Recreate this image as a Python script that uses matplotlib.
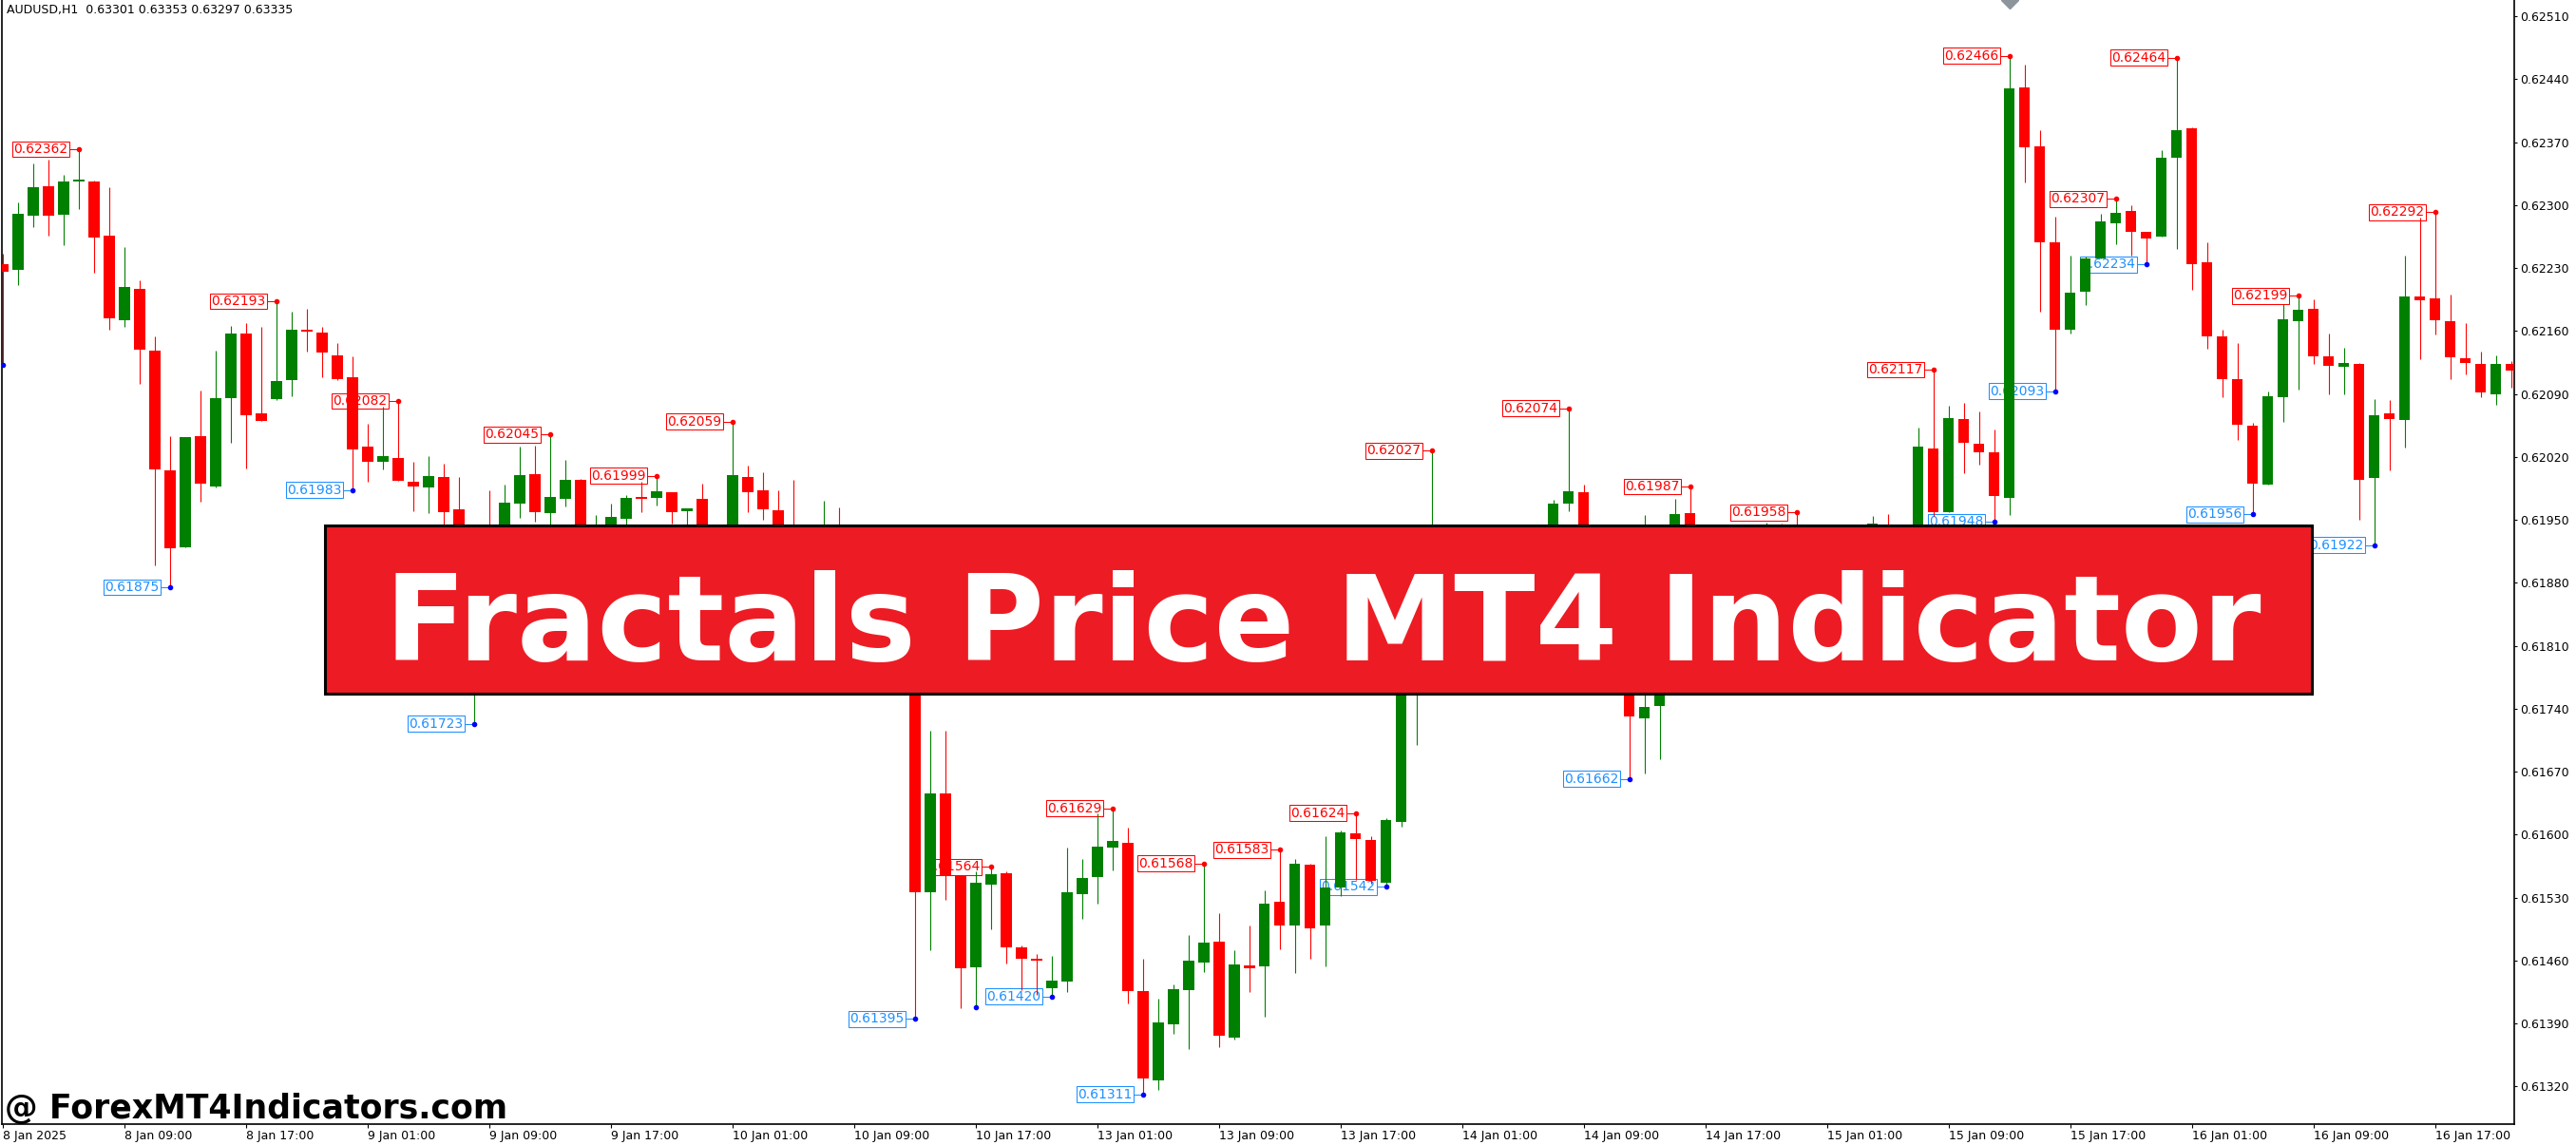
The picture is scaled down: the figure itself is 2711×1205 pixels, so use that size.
import numpy as np
import matplotlib.pyplot as plt
from matplotlib.patches import Rectangle

# AUDUSD H1 candles, one per bar
opens = [0.62234, 0.62228, 0.62288, 0.62321, 0.62289, 0.62326, 0.62326, 0.62266, 0.62172, 0.62207,
         0.62138, 0.62005, 0.61919, 0.62043, 0.61987, 0.62085, 0.62157, 0.62068, 0.62084, 0.62105,
         0.62161, 0.62158, 0.62133, 0.62108, 0.62031, 0.62014, 0.62019, 0.61992, 0.61986, 0.61998,
         0.61962, 0.61900, 0.61925, 0.61880, 0.61968, 0.62001, 0.61957, 0.61973, 0.61994, 0.61925,
         0.61935, 0.61951, 0.61975, 0.61974, 0.61981, 0.61960, 0.61973, 0.61935, 0.61940, 0.61998,
         0.61983, 0.61961, 0.61930, 0.61910, 0.61890, 0.61920, 0.61900, 0.61870, 0.61890, 0.61860,
         0.61830, 0.61536, 0.61646, 0.61555, 0.61452, 0.61544, 0.61557, 0.61475, 0.61461, 0.61429,
         0.61436, 0.61534, 0.61553, 0.61585, 0.61591, 0.61426, 0.61327, 0.61389, 0.61427, 0.61458,
         0.61481, 0.61374, 0.61454, 0.61453, 0.61525, 0.61499, 0.61566, 0.61499, 0.61541, 0.61601,
         0.61594, 0.61546, 0.61614, 0.61800, 0.61900, 0.61930, 0.61905, 0.61920, 0.61895, 0.61915,
         0.61900, 0.61925, 0.61930, 0.61968, 0.61981, 0.61910, 0.61860, 0.61800, 0.61729, 0.61743,
         0.61850, 0.61957, 0.61900, 0.61880, 0.61910, 0.61920, 0.61905, 0.61925, 0.61910, 0.61890,
         0.61905, 0.61895, 0.61915, 0.61925, 0.61940, 0.61915, 0.61900, 0.62029, 0.61959, 0.62062,
         0.62035, 0.62025, 0.61974, 0.62431, 0.62365, 0.62259, 0.62161, 0.62204, 0.62241, 0.62280,
         0.62293, 0.62270, 0.62265, 0.62353, 0.62385, 0.62236, 0.62154, 0.62106, 0.62055, 0.61989,
         0.62086, 0.62171, 0.62185, 0.62132, 0.62120, 0.62123, 0.61997, 0.62068, 0.62061, 0.62198,
         0.62196, 0.62171, 0.62130, 0.62123, 0.62090, 0.62123]
highs = [0.62246, 0.62303, 0.62346, 0.62351, 0.62334, 0.62362, 0.62327, 0.62320, 0.62253, 0.62216,
         0.62154, 0.62043, 0.62042, 0.62094, 0.62138, 0.62166, 0.62169, 0.62164, 0.62193, 0.62181,
         0.62185, 0.62165, 0.62147, 0.62132, 0.62057, 0.62076, 0.62082, 0.62015, 0.62021, 0.62012,
         0.61998, 0.61935, 0.61983, 0.61989, 0.62031, 0.62032, 0.62045, 0.62017, 0.61995, 0.61955,
         0.61968, 0.61978, 0.61992, 0.61999, 0.61981, 0.61963, 0.61990, 0.61943, 0.62059, 0.62010,
         0.62003, 0.61983, 0.61994, 0.61930, 0.61971, 0.61964, 0.61930, 0.61910, 0.61920, 0.61880,
         0.61850, 0.61715, 0.61715, 0.61555, 0.61559, 0.61564, 0.61559, 0.61477, 0.61467, 0.61465,
         0.61586, 0.61573, 0.61624, 0.61629, 0.61608, 0.61462, 0.61417, 0.61433, 0.61488, 0.61568,
         0.61513, 0.61471, 0.61499, 0.61538, 0.61583, 0.61573, 0.61567, 0.61598, 0.61604, 0.61624,
         0.61598, 0.61618, 0.61820, 0.61920, 0.62027, 0.61938, 0.61935, 0.61930, 0.61930, 0.61935,
         0.61938, 0.61940, 0.61972, 0.62074, 0.61989, 0.61920, 0.61870, 0.61810, 0.61955, 0.61870,
         0.61973, 0.61987, 0.61920, 0.61930, 0.61940, 0.61940, 0.61947, 0.61946, 0.61958, 0.61930,
         0.61925, 0.61935, 0.61940, 0.61954, 0.61956, 0.61930, 0.62052, 0.62117, 0.62077, 0.62080,
         0.62071, 0.62050, 0.62466, 0.62456, 0.62383, 0.62287, 0.62244, 0.62243, 0.62290, 0.62307,
         0.62300, 0.62270, 0.62361, 0.62464, 0.62386, 0.62259, 0.62161, 0.62147, 0.62058, 0.62093,
         0.62190, 0.62199, 0.62195, 0.62157, 0.62141, 0.62124, 0.62084, 0.62083, 0.62244, 0.62286,
         0.62292, 0.62200, 0.62169, 0.62137, 0.62133, 0.62127]
lows = [0.62122, 0.62211, 0.62275, 0.62266, 0.62255, 0.62296, 0.62225, 0.62161, 0.62164, 0.62101,
        0.61899, 0.61875, 0.61919, 0.61970, 0.61986, 0.62036, 0.62007, 0.62060, 0.62083, 0.62087,
        0.62137, 0.62109, 0.62105, 0.61983, 0.61992, 0.62006, 0.61993, 0.61960, 0.61957, 0.61935,
        0.61890, 0.61723, 0.61860, 0.61870, 0.61952, 0.61948, 0.61940, 0.61965, 0.61920, 0.61915,
        0.61930, 0.61945, 0.61959, 0.61966, 0.61946, 0.61940, 0.61925, 0.61915, 0.61930, 0.61959,
        0.61950, 0.61920, 0.61900, 0.61880, 0.61875, 0.61880, 0.61860, 0.61850, 0.61840, 0.61800,
        0.61395, 0.61471, 0.61527, 0.61407, 0.61408, 0.61495, 0.61457, 0.61427, 0.61422, 0.61420,
        0.61425, 0.61506, 0.61523, 0.61560, 0.61412, 0.61311, 0.61316, 0.61378, 0.61362, 0.61447,
        0.61364, 0.61372, 0.61425, 0.61397, 0.61472, 0.61446, 0.61462, 0.61453, 0.61532, 0.61550,
        0.61545, 0.61542, 0.61609, 0.61700, 0.61880, 0.61895, 0.61890, 0.61880, 0.61885, 0.61890,
        0.61890, 0.61910, 0.61920, 0.61960, 0.61900, 0.61850, 0.61780, 0.61662, 0.61668, 0.61684,
        0.61840, 0.61890, 0.61860, 0.61870, 0.61900, 0.61890, 0.61895, 0.61900, 0.61880, 0.61880,
        0.61885, 0.61885, 0.61905, 0.61915, 0.61905, 0.61890, 0.61890, 0.61954, 0.61958, 0.62002,
        0.62011, 0.61948, 0.61955, 0.62325, 0.62181, 0.62093, 0.62157, 0.62189, 0.62241, 0.62256,
        0.62244, 0.62234, 0.62265, 0.62251, 0.62206, 0.62140, 0.62086, 0.62039, 0.61956, 0.61989,
        0.62059, 0.62095, 0.62123, 0.62089, 0.62089, 0.61950, 0.61922, 0.62005, 0.62030, 0.62129,
        0.62156, 0.62106, 0.62112, 0.62086, 0.62078, 0.62097]
closes = [0.62226, 0.62290, 0.62320, 0.62288, 0.62326, 0.62327, 0.62264, 0.62174, 0.62209, 0.62139,
          0.62006, 0.61918, 0.62042, 0.61990, 0.62085, 0.62157, 0.62066, 0.62060, 0.62104, 0.62161,
          0.62159, 0.62136, 0.62106, 0.62028, 0.62014, 0.62021, 0.61993, 0.61987, 0.61999, 0.61959,
          0.61900, 0.61925, 0.61880, 0.61969, 0.62000, 0.61959, 0.61975, 0.61994, 0.61930, 0.61940,
          0.61953, 0.61974, 0.61973, 0.61982, 0.61959, 0.61963, 0.61935, 0.61940, 0.62000, 0.61981,
          0.61962, 0.61930, 0.61910, 0.61890, 0.61920, 0.61900, 0.61870, 0.61890, 0.61860, 0.61830,
          0.61536, 0.61646, 0.61555, 0.61451, 0.61546, 0.61556, 0.61475, 0.61462, 0.61460, 0.61438,
          0.61536, 0.61552, 0.61587, 0.61593, 0.61426, 0.61329, 0.61391, 0.61428, 0.61460, 0.61480,
          0.61376, 0.61455, 0.61451, 0.61523, 0.61499, 0.61567, 0.61496, 0.61541, 0.61602, 0.61595,
          0.61548, 0.61616, 0.61800, 0.61900, 0.61930, 0.61905, 0.61920, 0.61895, 0.61915, 0.61900,
          0.61925, 0.61930, 0.61968, 0.61982, 0.61910, 0.61860, 0.61800, 0.61731, 0.61742, 0.61850,
          0.61956, 0.61900, 0.61880, 0.61910, 0.61920, 0.61905, 0.61925, 0.61910, 0.61890, 0.61905,
          0.61895, 0.61915, 0.61925, 0.61946, 0.61915, 0.61900, 0.62031, 0.61959, 0.62063, 0.62036,
          0.62025, 0.61976, 0.62430, 0.62364, 0.62259, 0.62161, 0.62203, 0.62241, 0.62282, 0.62291,
          0.62270, 0.62263, 0.62353, 0.62383, 0.62234, 0.62154, 0.62106, 0.62056, 0.61990, 0.62087,
          0.62173, 0.62184, 0.62132, 0.62121, 0.62124, 0.61994, 0.62066, 0.62062, 0.62198, 0.62194,
          0.62172, 0.62131, 0.62124, 0.62092, 0.62123, 0.62116]

# fractal markers: (bar index, price)
up_fractals = [(5, 0.62362), (18, 0.62193), (26, 0.62082), (36, 0.62045), (43, 0.61999),
               (48, 0.62059), (65, 0.61564), (73, 0.61629), (79, 0.61568), (84, 0.61583),
               (89, 0.61624), (94, 0.62027), (103, 0.62074), (111, 0.61987), (118, 0.61958),
               (127, 0.62117), (132, 0.62466), (139, 0.62307), (143, 0.62464), (151, 0.62199),
               (160, 0.62292)]
down_fractals = [(11, 0.61875), (23, 0.61983), (31, 0.61723), (60, 0.61395), (69, 0.61420),
                 (75, 0.61311), (91, 0.61542), (107, 0.61662), (131, 0.61948), (135, 0.62093),
                 (141, 0.62234), (148, 0.61956), (156, 0.61922)]
unlabeled_down = [(0, 0.62122), (64, 0.61408)]

price_ticks = [0.62510, 0.62440, 0.62370, 0.62300, 0.62230, 0.62160, 0.62090, 0.62020, 0.61950,
               0.61880, 0.61810, 0.61740, 0.61670, 0.61600, 0.61530, 0.61460, 0.61390, 0.61320]
time_labels = ['8 Jan 2025', '8 Jan 09:00', '8 Jan 17:00', '9 Jan 01:00', '9 Jan 09:00',
               '9 Jan 17:00', '10 Jan 01:00', '10 Jan 09:00', '10 Jan 17:00', '13 Jan 01:00',
               '13 Jan 09:00', '13 Jan 17:00', '14 Jan 01:00', '14 Jan 09:00', '14 Jan 17:00',
               '15 Jan 01:00', '15 Jan 09:00', '15 Jan 17:00', '16 Jan 01:00', '16 Jan 09:00',
               '16 Jan 17:00']
bars_per_label = 8
shift_marker_bar = 132

BULL = '#008000'
BEAR = '#FF0000'
UP_C = '#FF0000'
DN_C = '#1E90FF'
DN_DOT = '#0000FF'

W, H = 2711, 1205
fig = plt.figure(figsize=(W / 100, H / 100), dpi=100)
fig.patch.set_facecolor('white')
ax = fig.add_axes([2 / W, 22 / H, 2644 / W, 1183 / H])
ax.set_facecolor('white')

o = np.array(opens)
h = np.array(highs)
l = np.array(lows)
c = np.array(closes)
x = np.arange(len(o))
cols = np.where(c >= o, BULL, BEAR)

ax.vlines(x, l, h, colors=cols, linewidth=0.8, zorder=2)
body = np.maximum(np.abs(c - o), 0.00002)
ax.bar(x, body, bottom=np.minimum(o, c), width=0.69, color=cols, linewidth=0, zorder=3)

# fractal labels (drawn behind the candles, like MT4)
def fractal(i, p, col, dotcol):
    ax.annotate(f'{p:.5f}', xy=(i, p), xytext=(-8.3, 0), textcoords='offset points',
                ha='right', va='center', color=col, fontsize=10, zorder=1,
                bbox=dict(boxstyle='square,pad=0.1', fc='none', ec=col, lw=0.75))
    ax.plot([i - 0.62, i], [p, p], color=col, lw=0.75, zorder=1)
    ax.plot(i, p, 'o', ms=3, color=dotcol, zorder=4)

for i, p in up_fractals:
    fractal(i, p, UP_C, UP_C)
for i, p in down_fractals:
    fractal(i, p, DN_C, DN_DOT)
for i, p in unlabeled_down:
    ax.plot(i, p, 'o', ms=3, color=DN_DOT, zorder=4)

ax.set_xlim(-0.0625, 165.19)
ax.set_ylim(0.61278, 0.62528)

ax.plot(shift_marker_bar, 0.62528, marker='D', ms=9, color='#8c949c', zorder=5, clip_on=True)

ax.yaxis.tick_right()
ax.set_yticks(price_ticks)
ax.set_yticklabels([f'{v:.5f}' for v in price_ticks])
ax.set_xticks(np.arange(len(time_labels)) * bars_per_label)
ax.set_xticklabels(time_labels)
for lbl in ax.get_xticklabels():
    lbl.set_horizontalalignment('left')
ax.tick_params(axis='y', direction='out', length=2.5, width=0.8, pad=2, labelsize=9, colors='black')
ax.tick_params(axis='x', direction='out', length=3, width=0.8, pad=1.5, labelsize=9, colors='black')
for s in ['left', 'right', 'bottom']:
    ax.spines[s].set_color('black')
    ax.spines[s].set_linewidth(1.2)
ax.spines['top'].set_visible(False)

fig.text(7 / W, 1 - 4 / H, 'AUDUSD,H1  0.63301 0.63353 0.63297 0.63335',
         fontsize=9, color='black', ha='left', va='top')

# banner over the chart
fig.add_artist(Rectangle((342 / W, (H - 730) / H), 2091 / W, 177 / H,
                         transform=fig.transFigure, facecolor='#ED1C24',
                         edgecolor='black', linewidth=2.2, zorder=5))
fig.text(1392 / W, (H - 695) / H, 'Fractals Price MT4 Indicator', color='white',
         fontsize=90, fontweight='bold', ha='center', va='baseline', zorder=6)

fig.text(5 / W, (H - 1177) / H, '@ ForexMT4Indicators.com', color='black',
         fontsize=25, fontweight='bold', ha='left', va='baseline', zorder=6)

fig.savefig('out.png', dpi=100)
